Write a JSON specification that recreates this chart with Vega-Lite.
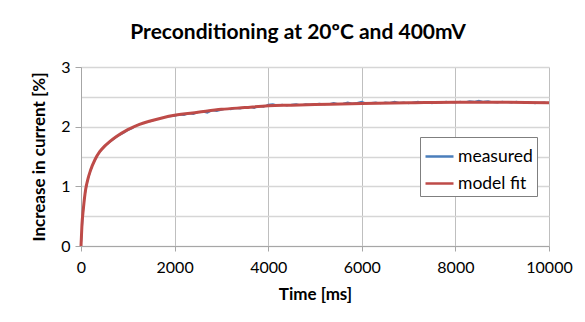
{
  "$schema": "https://vega.github.io/schema/vega-lite/v6.json",
  "autosize": "none",
  "width": 468,
  "height": 179,
  "padding": {"left": 81, "top": 67, "right": 36, "bottom": 76},
  "background": "white",
  "title": {"text": "Preconditioning at 20ºC and 400mV", "font": "Lato", "fontSize": 21, "fontWeight": "bold", "color": "#000000", "anchor": "middle", "dx": -17, "offset": 16},
  "config": {
    "font": "Lato",
    "view": {"stroke": null},
    "axis": {"labelFont": "Lato", "labelFontSize": 16, "labelColor": "#000000", "titleFont": "Lato", "titleFontSize": 17, "titleFontWeight": "bold", "titleColor": "#000000", "domainColor": "#a6a6a6", "tickColor": "#a6a6a6", "gridColor": "#d6d6d6"},
    "legend": {"orient": "none", "legendX": 339, "legendY": 70, "title": null, "strokeColor": "#7f7f7f", "padding": 4, "fillColor": "white", "symbolType": "stroke", "symbolSize": 784, "symbolStrokeWidth": 2.5, "labelFont": "Lato", "labelFontSize": 17.5, "labelColor": "#000000", "rowPadding": 3, "labelOffset": 3}
  },
  "datasets": {
    "measured": [
      {"t": 0, "y": 0, "series": "measured"},
      {"t": 10, "y": 0.1, "series": "measured"},
      {"t": 25, "y": 0.3, "series": "measured"},
      {"t": 50, "y": 0.6, "series": "measured"},
      {"t": 75, "y": 0.8, "series": "measured"},
      {"t": 100, "y": 0.93, "series": "measured"},
      {"t": 150, "y": 1.12, "series": "measured"},
      {"t": 200, "y": 1.25, "series": "measured"},
      {"t": 250, "y": 1.36, "series": "measured"},
      {"t": 300, "y": 1.44, "series": "measured"},
      {"t": 350, "y": 1.52, "series": "measured"},
      {"t": 400, "y": 1.57, "series": "measured"},
      {"t": 450, "y": 1.63, "series": "measured"},
      {"t": 500, "y": 1.66, "series": "measured"},
      {"t": 600, "y": 1.73, "series": "measured"},
      {"t": 700, "y": 1.79, "series": "measured"},
      {"t": 800, "y": 1.85, "series": "measured"},
      {"t": 900, "y": 1.89, "series": "measured"},
      {"t": 1000, "y": 1.94, "series": "measured"},
      {"t": 1100, "y": 1.97, "series": "measured"},
      {"t": 1200, "y": 2.03, "series": "measured"},
      {"t": 1300, "y": 2.05, "series": "measured"},
      {"t": 1400, "y": 2.08, "series": "measured"},
      {"t": 1500, "y": 2.09, "series": "measured"},
      {"t": 1600, "y": 2.12, "series": "measured"},
      {"t": 1700, "y": 2.14, "series": "measured"},
      {"t": 1800, "y": 2.16, "series": "measured"},
      {"t": 1900, "y": 2.17, "series": "measured"},
      {"t": 2000, "y": 2.18, "series": "measured"},
      {"t": 2100, "y": 2.2, "series": "measured"},
      {"t": 2200, "y": 2.19, "series": "measured"},
      {"t": 2300, "y": 2.22, "series": "measured"},
      {"t": 2400, "y": 2.21, "series": "measured"},
      {"t": 2500, "y": 2.24, "series": "measured"},
      {"t": 2600, "y": 2.25, "series": "measured"},
      {"t": 2700, "y": 2.23, "series": "measured"},
      {"t": 2800, "y": 2.27, "series": "measured"},
      {"t": 2900, "y": 2.26, "series": "measured"},
      {"t": 3000, "y": 2.28, "series": "measured"},
      {"t": 3100, "y": 2.3, "series": "measured"},
      {"t": 3200, "y": 2.29, "series": "measured"},
      {"t": 3300, "y": 2.31, "series": "measured"},
      {"t": 3400, "y": 2.3, "series": "measured"},
      {"t": 3500, "y": 2.32, "series": "measured"},
      {"t": 3600, "y": 2.33, "series": "measured"},
      {"t": 3700, "y": 2.31, "series": "measured"},
      {"t": 3800, "y": 2.34, "series": "measured"},
      {"t": 3900, "y": 2.33, "series": "measured"},
      {"t": 4000, "y": 2.37, "series": "measured"},
      {"t": 4100, "y": 2.38, "series": "measured"},
      {"t": 4200, "y": 2.36, "series": "measured"},
      {"t": 4300, "y": 2.37, "series": "measured"},
      {"t": 4400, "y": 2.35, "series": "measured"},
      {"t": 4500, "y": 2.37, "series": "measured"},
      {"t": 4600, "y": 2.38, "series": "measured"},
      {"t": 4700, "y": 2.36, "series": "measured"},
      {"t": 4800, "y": 2.38, "series": "measured"},
      {"t": 4900, "y": 2.37, "series": "measured"},
      {"t": 5000, "y": 2.38, "series": "measured"},
      {"t": 5100, "y": 2.39, "series": "measured"},
      {"t": 5200, "y": 2.37, "series": "measured"},
      {"t": 5300, "y": 2.38, "series": "measured"},
      {"t": 5400, "y": 2.4, "series": "measured"},
      {"t": 5500, "y": 2.38, "series": "measured"},
      {"t": 5600, "y": 2.39, "series": "measured"},
      {"t": 5700, "y": 2.41, "series": "measured"},
      {"t": 5800, "y": 2.39, "series": "measured"},
      {"t": 5900, "y": 2.4, "series": "measured"},
      {"t": 6000, "y": 2.42, "series": "measured"},
      {"t": 6100, "y": 2.39, "series": "measured"},
      {"t": 6200, "y": 2.4, "series": "measured"},
      {"t": 6300, "y": 2.41, "series": "measured"},
      {"t": 6400, "y": 2.39, "series": "measured"},
      {"t": 6500, "y": 2.41, "series": "measured"},
      {"t": 6600, "y": 2.4, "series": "measured"},
      {"t": 6700, "y": 2.42, "series": "measured"},
      {"t": 6800, "y": 2.4, "series": "measured"},
      {"t": 6900, "y": 2.41, "series": "measured"},
      {"t": 7000, "y": 2.39, "series": "measured"},
      {"t": 7100, "y": 2.41, "series": "measured"},
      {"t": 7200, "y": 2.42, "series": "measured"},
      {"t": 7300, "y": 2.4, "series": "measured"},
      {"t": 7400, "y": 2.41, "series": "measured"},
      {"t": 7500, "y": 2.39, "series": "measured"},
      {"t": 7600, "y": 2.41, "series": "measured"},
      {"t": 7700, "y": 2.4, "series": "measured"},
      {"t": 7800, "y": 2.42, "series": "measured"},
      {"t": 7900, "y": 2.41, "series": "measured"},
      {"t": 8000, "y": 2.4, "series": "measured"},
      {"t": 8100, "y": 2.42, "series": "measured"},
      {"t": 8200, "y": 2.41, "series": "measured"},
      {"t": 8300, "y": 2.43, "series": "measured"},
      {"t": 8400, "y": 2.42, "series": "measured"},
      {"t": 8500, "y": 2.44, "series": "measured"},
      {"t": 8600, "y": 2.42, "series": "measured"},
      {"t": 8700, "y": 2.43, "series": "measured"},
      {"t": 8800, "y": 2.41, "series": "measured"},
      {"t": 8900, "y": 2.4, "series": "measured"},
      {"t": 9000, "y": 2.42, "series": "measured"},
      {"t": 9100, "y": 2.41, "series": "measured"},
      {"t": 9200, "y": 2.4, "series": "measured"},
      {"t": 9300, "y": 2.42, "series": "measured"},
      {"t": 9400, "y": 2.41, "series": "measured"},
      {"t": 9500, "y": 2.4, "series": "measured"},
      {"t": 9600, "y": 2.41, "series": "measured"},
      {"t": 9700, "y": 2.39, "series": "measured"},
      {"t": 9800, "y": 2.4, "series": "measured"},
      {"t": 9900, "y": 2.41, "series": "measured"},
      {"t": 10000, "y": 2.39, "series": "measured"}
    ],
    "fit": [
      {"t": 0, "y": 0, "series": "model fit"},
      {"t": 20, "y": 0.35, "series": "model fit"},
      {"t": 50, "y": 0.62, "series": "model fit"},
      {"t": 100, "y": 0.95, "series": "model fit"},
      {"t": 150, "y": 1.13, "series": "model fit"},
      {"t": 200, "y": 1.26, "series": "model fit"},
      {"t": 300, "y": 1.45, "series": "model fit"},
      {"t": 400, "y": 1.58, "series": "model fit"},
      {"t": 500, "y": 1.67, "series": "model fit"},
      {"t": 600, "y": 1.74, "series": "model fit"},
      {"t": 750, "y": 1.83, "series": "model fit"},
      {"t": 1000, "y": 1.95, "series": "model fit"},
      {"t": 1250, "y": 2.04, "series": "model fit"},
      {"t": 1500, "y": 2.1, "series": "model fit"},
      {"t": 1750, "y": 2.15, "series": "model fit"},
      {"t": 2000, "y": 2.19, "series": "model fit"},
      {"t": 2500, "y": 2.24, "series": "model fit"},
      {"t": 3000, "y": 2.29, "series": "model fit"},
      {"t": 3500, "y": 2.32, "series": "model fit"},
      {"t": 4000, "y": 2.35, "series": "model fit"},
      {"t": 4500, "y": 2.36, "series": "model fit"},
      {"t": 5000, "y": 2.37, "series": "model fit"},
      {"t": 6000, "y": 2.39, "series": "model fit"},
      {"t": 7000, "y": 2.4, "series": "model fit"},
      {"t": 8000, "y": 2.41, "series": "model fit"},
      {"t": 9000, "y": 2.41, "series": "model fit"},
      {"t": 10000, "y": 2.4, "series": "model fit"}
    ]
  },
  "resolve": {"axis": {"y": "independent"}},
  "layer": [
    {
      "data": {"name": "measured"},
      "mark": {"type": "line", "strokeWidth": 1.5, "interpolate": "linear"},
      "encoding": {
        "x": {"field": "t", "type": "quantitative", "scale": {"domain": [0, 10000], "nice": false},
          "axis": {"values": [0, 2000, 4000, 6000, 8000, 10000], "grid": true, "gridColor": "#bfbfbf", "gridWidth": 1, "tickSize": 5, "labelPadding": 8, "labelFlush": false, "labelOverlap": false, "format": "d", "title": "Time [ms]", "titlePadding": 11}},
        "y": {"field": "y", "type": "quantitative", "scale": {"domain": [0, 3], "nice": false},
          "axis": {"orient": "left", "values": [0, 0.5, 1, 1.5, 2, 2.5, 3], "grid": true, "gridWidth": 1.5, "gridColor": "#d6d6d6", "labels": false, "ticks": false, "domain": false, "title": null}},
        "color": {"field": "series", "type": "nominal", "scale": {"domain": ["measured", "model fit"], "range": ["#4a7ebb", "#be4b48"]}}
      }
    },
    {
      "data": {"name": "fit"},
      "mark": {"type": "line", "strokeWidth": 3, "interpolate": "monotone"},
      "encoding": {
        "x": {"field": "t", "type": "quantitative"},
        "y": {"field": "y", "type": "quantitative",
          "axis": {"orient": "left", "values": [0, 1, 2, 3], "grid": false, "tickSize": 6, "labelPadding": 5, "labelFlush": false, "title": "Increase in current [%]", "titlePadding": 12}},
        "color": {"field": "series", "type": "nominal"}
      }
    }
  ]
}
